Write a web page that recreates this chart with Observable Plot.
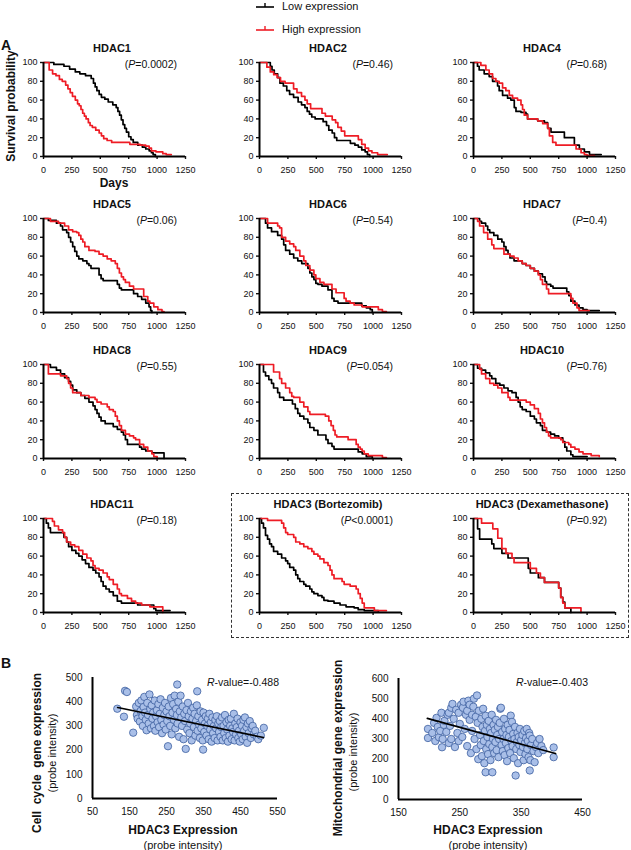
<!DOCTYPE html>
<html><head><meta charset="utf-8">
<script src="https://cdn.jsdelivr.net/npm/d3@7"></script>
<script src="https://cdn.jsdelivr.net/npm/@observablehq/plot@0.6"></script>
<style>
body{margin:0;background:#fff;font-family:"Liberation Sans",Arial,sans-serif;color:#111;}
#root{position:relative;width:631px;height:850px;overflow:hidden;}
.abs{position:absolute;white-space:nowrap;line-height:1;}
.panel{position:absolute;}
.panel svg g[aria-label*="tick"]{stroke-width:1.4px;}
.panel svg .tick line{stroke-width:1.4px;}
</style></head><body><div id="root"></div><script>
// ---------- DATA ----------
const panelNames = ["HDAC1","HDAC2","HDAC4","HDAC5","HDAC6","HDAC7","HDAC8","HDAC9","HDAC10","HDAC11","HDAC3 (Bortezomib)","HDAC3 (Dexamethasone)"];
const pRelation = ["=","=","=","=","=","=","=","=","=","=","<","="];
const pValue = ["0.0002","0.46","0.68","0.06","0.54","0.4","0.55","0.054","0.76","0.18","0.0001","0.92"];
const dayTicks = [0,250,500,750,1000,1250];
const survTicks = [0,20,40,60,80,100];
const seriesNames = ["Low expression","High expression"];

// survival curves: [day, survival %] (step-after)
const hdac1Low = [[0,100],[91,98],[180,96],[230,93],[280,90],[320,88],[370,86],[420,83],[440,78],[455,74],[470,70],[490,66],[510,63],[540,61],[570,58],[610,55],[640,52],[655,48],[670,44],[685,39],[700,34],[715,30],[730,26],[750,21],[770,18],[790,15],[830,12],[870,10],[900,8],[930,6],[950,4],[965,2],[985,0]];
const hdac1High = [[0,100],[50,92],[80,88],[110,86],[140,82],[165,80],[195,76],[215,72],[235,68],[255,64],[280,60],[300,56],[315,54],[330,50],[345,46],[360,43],[375,40],[395,36],[410,33],[430,31],[460,28],[490,25],[510,22],[530,19],[560,17],[600,15],[760,13],[850,12],[900,11],[930,9],[950,6],[990,5],[1050,3],[1080,2],[1125,2]];
const hdac2Low = [[0,100],[95,96],[110,92],[130,88],[160,84],[180,78],[210,75],[240,70],[265,66],[300,63],[340,58],[370,55],[400,52],[420,48],[440,45],[460,42],[490,40],[560,37],[590,33],[610,28],[640,25],[660,20],[680,17],[800,14],[840,12],[870,10],[900,7],[930,5],[950,2],[970,0]];
const hdac2High = [[0,100],[65,95],[95,90],[125,87],[155,84],[185,80],[225,78],[300,72],[330,68],[370,64],[400,60],[420,56],[450,51],[550,46],[580,43],[640,39],[670,36],[690,31],[720,27],[750,22],[870,18],[900,13],[930,9],[960,6],[990,4],[1040,2],[1125,2]];
const hdac4Low = [[0,100],[35,96],[50,92],[94,88],[138,85],[168,80],[212,75],[226,70],[256,65],[300,62],[329,60],[359,52],[374,48],[418,47],[462,45],[476,40],[565,38],[624,36],[653,30],[682,26],[800,20],[888,12],[932,8],[976,5],[1021,2],[1124,2]];
const hdac4High = [[0,100],[65,97],[109,92],[138,88],[168,83],[197,80],[226,78],[256,73],[285,70],[315,65],[344,62],[388,60],[418,55],[432,50],[447,44],[476,40],[565,38],[609,35],[653,30],[668,22],[697,15],[726,12],[903,8],[947,4],[976,2],[1000,1],[1065,1]];
const hdac5Low = [[0,100],[43,98],[114,95],[150,92],[168,88],[204,85],[221,80],[239,75],[257,70],[275,65],[293,60],[311,57],[346,55],[382,52],[400,50],[418,47],[489,40],[507,36],[525,34],[650,30],[668,26],[686,24],[793,20],[829,17],[864,14],[900,10],[929,6],[943,2],[954,0]];
const hdac5High = [[0,100],[61,97],[132,95],[186,92],[221,88],[257,86],[293,85],[311,82],[329,78],[346,75],[364,70],[400,66],[454,65],[489,62],[525,60],[561,57],[596,55],[632,52],[650,47],[668,42],[686,38],[704,35],[721,32],[757,28],[793,25],[882,17],[918,12],[936,10],[971,6],[1007,3],[1043,1],[1061,1]];
const hdac6Low = [[0,100],[53,95],[71,90],[106,86],[160,82],[195,78],[213,72],[230,66],[266,62],[301,58],[337,55],[372,52],[426,47],[443,42],[461,38],[479,35],[496,31],[514,30],[550,28],[603,24],[638,15],[656,12],[691,10],[900,7],[940,5],[975,3],[993,0]];
const hdac6High = [[0,100],[71,95],[160,92],[177,90],[195,80],[230,76],[266,73],[301,70],[319,66],[355,60],[390,55],[408,50],[443,45],[479,40],[496,36],[532,32],[567,30],[638,25],[674,21],[745,15],[762,12],[798,10],[833,8],[904,6],[1046,3],[1082,1],[1117,1]];
const hdac7Low = [[0,100],[54,97],[71,95],[107,92],[125,88],[143,85],[179,82],[214,78],[250,75],[268,70],[286,66],[304,62],[321,58],[357,55],[429,52],[464,50],[500,47],[536,44],[571,41],[607,38],[630,33],[643,30],[680,28],[700,26],[821,22],[839,18],[857,12],[893,8],[929,5],[964,3],[1000,2],[1107,2]];
const hdac7High = [[0,100],[36,97],[54,92],[89,85],[125,78],[161,72],[179,68],[268,62],[321,60],[357,58],[393,55],[429,52],[464,50],[500,47],[536,44],[571,40],[589,35],[607,30],[643,25],[661,20],[857,15],[875,10],[911,5],[929,2],[1018,2]];
const hdac8Low = [[0,100],[61,97],[114,94],[150,90],[186,86],[221,82],[239,78],[257,73],[293,70],[329,67],[364,64],[400,60],[436,56],[454,52],[471,48],[489,44],[507,40],[543,37],[614,34],[650,31],[686,28],[704,25],[721,20],[739,15],[846,12],[864,10],[900,8],[954,6],[1061,0]];
const hdac8High = [[0,100],[43,90],[150,88],[204,85],[221,80],[239,75],[257,70],[329,67],[400,65],[454,63],[471,60],[507,58],[561,55],[579,52],[614,50],[632,45],[650,40],[668,35],[686,30],[721,26],[757,24],[793,22],[811,20],[846,15],[882,12],[918,8],[954,5],[971,2],[1000,0]];
const hdac9Low = [[0,100],[35,92],[53,88],[82,84],[106,80],[124,75],[160,70],[177,65],[213,62],[290,58],[315,53],[337,48],[355,45],[390,42],[426,38],[443,33],[479,30],[514,25],[585,20],[603,16],[638,13],[656,10],[869,7],[904,5],[940,2],[993,0]];
const hdac9High = [[0,100],[124,92],[177,85],[195,80],[230,75],[266,70],[284,66],[301,65],[355,60],[390,55],[426,50],[443,47],[580,45],[610,40],[630,35],[650,30],[665,25],[680,23],[780,20],[851,15],[869,12],[887,10],[904,8],[922,5],[957,3],[1082,1],[1117,1]];
const hdac10Low = [[0,100],[36,96],[71,94],[107,91],[143,88],[161,85],[196,80],[232,78],[268,75],[304,72],[339,70],[375,65],[393,60],[411,55],[429,52],[464,50],[500,45],[536,42],[554,38],[589,35],[607,30],[643,28],[679,26],[714,24],[750,22],[786,18],[804,12],[821,8],[857,4],[875,2],[1000,2]];
const hdac10High = [[0,100],[54,95],[71,90],[107,85],[143,80],[179,78],[214,75],[250,70],[304,65],[321,62],[464,60],[500,57],[536,53],[571,48],[589,42],[607,38],[625,33],[643,28],[661,24],[679,22],[768,20],[786,17],[839,15],[857,12],[893,10],[929,7],[964,5],[1036,3],[1107,2]];
const hdac11Low = [[0,100],[25,95],[43,90],[61,85],[180,80],[204,75],[221,70],[250,66],[285,63],[311,60],[340,56],[370,52],[400,48],[436,45],[460,42],[489,38],[507,33],[525,28],[550,25],[579,22],[614,18],[650,12],[686,10],[829,8],[971,4],[989,2],[1114,2]];
const hdac11High = [[0,100],[79,97],[96,92],[132,88],[168,85],[186,80],[204,75],[239,72],[275,70],[311,66],[346,62],[382,58],[418,55],[436,50],[454,47],[489,45],[525,42],[561,38],[579,35],[614,30],[650,25],[668,20],[686,18],[739,15],[775,12],[811,10],[864,8],[936,6],[1050,0]];
const bortLow = [[0,100],[18,95],[35,90],[53,82],[71,78],[89,73],[106,70],[124,65],[160,62],[195,58],[230,55],[248,52],[266,48],[301,45],[319,40],[337,36],[355,33],[390,30],[408,28],[443,25],[461,22],[479,20],[514,18],[550,16],[567,13],[603,12],[656,10],[709,8],[762,6],[833,5],[869,3],[922,2],[1046,1]];
const bortHigh = [[0,100],[71,98],[195,95],[213,90],[230,85],[248,83],[301,80],[319,75],[355,73],[390,70],[426,68],[461,65],[479,62],[514,60],[532,57],[567,53],[603,50],[621,45],[638,40],[656,36],[727,33],[745,30],[798,28],[851,25],[869,20],[887,15],[904,10],[922,5],[1011,2],[1117,2]];
const dexaLow = [[0,100],[36,89],[54,78],[161,73],[179,68],[250,63],[304,58],[482,47],[500,42],[571,37],[625,32],[750,26],[768,16],[786,11],[804,5],[857,0]];
const dexaHigh = [[0,100],[71,95],[170,89],[214,79],[250,68],[286,63],[339,58],[357,53],[500,47],[554,42],[589,37],[625,32],[750,26],[768,16],[786,10],[804,5],[946,0]];

// scatter B: [HDAC3 expression, gene expression]
const cellCyclePoints = [[117,371],[135,338],[138,445],[143,440],[160,272],
[168,380],[170,345],[172,330],[175,395],[178,318],[180,362],[182,405],[185,340],[186,300],[188,378],[190,420],[192,355],[194,325],[196,282],[198,395],
[200,345],[202,310],[204,430],[206,370],[208,290],[210,385],[212,330],[214,355],[216,300],[218,405],[220,280],[222,340],[224,365],[226,315],[228,390],[230,295],[232,350],[234,410],[236,325],[238,270],
[240,375],[242,305],[244,345],[246,395],[248,285],[250,360],[252,320],[254,216],[256,380],[258,340],[260,300],[262,415],[264,265],[266,355],[268,390],[270,325],[272,425],[274,290],[276,370],[278,345],
[279,471],[280,310],[282,400],[284,255],[286,360],[288,425],[290,335],[292,300],[294,380],[296,245],[298,350],[300,320],[302,205],[304,365],[306,285],[308,395],[310,340],[312,270],[314,310],[316,360],
[318,240],[320,330],[322,375],[324,295],[326,350],[328,260],[330,320],[332,385],[333,443],[334,280],[336,340],[338,305],[340,250],[342,360],[344,290],[346,325],[348,240],[349,202],[350,355],[352,275],
[354,310],[356,340],[358,260],[360,300],[362,330],[364,245],[366,350],[368,285],[370,315],[372,235],[374,335],[376,270],[378,300],[380,250],[382,325],[384,290],[386,340],[388,240],[390,310],[392,275],
[394,320],[396,255],[398,295],[400,335],[402,240],[404,300],[406,270],[408,345],[410,250],[412,315],[414,285],[416,235],[418,325],[420,260],[422,300],[424,330],[426,245],[428,290],[430,275],[432,350],
[434,240],[436,310],[438,265],[440,295],[442,330],[444,250],[446,280],[448,235],[450,315],[452,265],[454,300],[456,245],[458,325],[460,280],[462,335],[464,255],[466,295],[468,230],[470,310],[472,270],
[475,320],[478,250],[480,290],[483,300],[486,265],[490,280],[494,255],[498,245],[505,260],[513,292]];
const mitoPoints = [[198,350],[198,305],[205,330],[208,380],[210,290],[212,405],[214,360],[216,309],[218,340],[220,430],[221,259],[222,300],[224,370],
[225,390],[228,335],[230,420],[232,280],[232,430],[234,365],[236,300],[236,455],[238,474],[240,400],[242,260],[244,445],[246,330],[248,290],[248,430],[250,375],[252,470],[254,310],[255,455],[256,485],[258,350],[260,420],[262,265],[262,440],[264,490],[266,395],[266,470],[268,230],[270,340],[270,420],[272,460],[273,500],[274,300],[276,410],[277,250],[278,516],[279,380],[280,200],[281,440],[283,320],[284,270],[285,400],[286,215],[287,360],[288,450],[289,290],[290,180],[291,340],[292,415],[292,135],[293,250],[294,370],[295,310],[296,225],[297,390],[298,275],[299,350],[300,195],[301,330],[302,420],[303,260],[303,135],[304,300],[305,370],[306,230],[307,345],[308,285],[309,395],[310,245],[311,320],[312,360],[313,210],[314,300],[315,380],[316,450],[317,455],[318,270],[319,335],[320,240],[321,300],[322,400],[323,220],[324,350],[325,280],[326,320],[327,190],[328,370],[329,255],[330,310],[331,345],[332,230],[333,416],[334,290],[335,385],[336,265],[337,325],[338,205],[339,300],[340,360],[341,119],[342,250],[343,285],[344,330],[345,180],[346,310],[347,270],[348,350],[349,235],[350,295],[352,320],[353,260],[354,195],[355,340],[356,280],[357,225],[358,305],[359,350],[360,250],[361,290],[362,210],[363,330],[364,317],[364,144],[365,195],[366,270],[368,300],[370,240],[372,185],[374,260],[376,280],[378,230],[380,300],[383,265],[386,245],[403,258],[403,210]];
const cellCycleFit = [[118,376],[512,252]];
const mitoFit = [[197,402],[406,228]];
const cellCycleR = "-0.488";
const mitoR = "-0.403";
const cellCycleXTicks = [50,150,250,350,450,550];
const cellCycleYTicks = [0,100,200,300,400,500];
const mitoXTicks = [150,250,350,450];
const mitoYTicks = [0,100,200,300,400,500,600];

// ---------- LAYOUT ----------
const FONT = '"Liberation Sans", Arial, sans-serif';
const RED = "#ee1c25";
const root = document.getElementById("root");
const curves = [[hdac1Low,hdac1High],[hdac2Low,hdac2High],[hdac4Low,hdac4High],[hdac5Low,hdac5High],[hdac6Low,hdac6High],[hdac7Low,hdac7High],[hdac8Low,hdac8High],[hdac9Low,hdac9High],[hdac10Low,hdac10High],[hdac11Low,hdac11High],[bortLow,bortHigh],[dexaLow,dexaHigh]];
const colX = [43,259,473];
const rowY = [62,218,364,518];

function label(html, x, y, o = {}) {
  const d = document.createElement("div");
  d.className = "abs";
  d.innerHTML = html;
  d.style.left = x + "px"; d.style.top = y + "px";
  d.style.fontSize = (o.size || 11) + "px";
  if (o.bold) d.style.fontWeight = "bold";
  const ax = o.anchor === "end" ? "-100%" : o.anchor === "start" ? "0" : "-50%";
  d.style.transform = `translate(${ax},-50%)` + (o.rotate ? " rotate(-90deg)" : "");
  root.appendChild(d);
  return d;
}
function place(node, left, top) {
  const w = document.createElement("div");
  w.className = "panel";
  w.style.left = left + "px"; w.style.top = top + "px";
  w.appendChild(node);
  root.appendChild(w);
}

// legend
[["#000",6],[RED,29]].forEach(([c, y], i) => {
  const s = d3.create("svg").attr("width", 24).attr("height", 10).style("position","absolute").style("left","254px").style("top",(y-5)+"px");
  s.append("line").attr("x1",2).attr("x2",20).attr("y1",6).attr("y2",6).attr("stroke",c).attr("stroke-width",1.6);
  s.append("line").attr("x1",11).attr("x2",11).attr("y1",2).attr("y2",6).attr("stroke",c).attr("stroke-width",1.4);
  root.appendChild(s.node());
  label(seriesNames[i], 282, y, {anchor:"start", size:11});
});

label("A", 6, 45, {bold:true, size:14});
label("B", 6, 663, {bold:true, size:14});

// dashed box
const box = document.createElement("div");
box.style.cssText = "position:absolute;left:231px;top:493px;width:396px;height:143px;border:1px dashed #333;";
root.appendChild(box);

curves.forEach(([low, high], i) => {
  const x0 = colX[i % 3], y0 = rowY[Math.floor(i / 3)];
  const p = Plot.plot({
    width: 190, height: 140, marginLeft: 40, marginRight: 8, marginTop: 24, marginBottom: 22,
    style: {fontFamily: FONT, fontSize: "9px", background: "transparent", overflow: "visible", color: "#111"},
    x: {domain: [0, 1250], ticks: dayTicks, tickFormat: d3.format("d"), tickSize: 3, tickPadding: 7, label: null},
    y: {domain: [0, 100], ticks: survTicks, tickSize: 3, tickPadding: 3, label: null},
    marks: [
      Plot.line(low, {x: d => d[0], y: d => d[1], curve: "step-after", stroke: "#000", strokeWidth: 1.7}),
      Plot.line(high, {x: d => d[0], y: d => d[1], curve: "step-after", stroke: RED, strokeWidth: 1.7}),
      Plot.ruleX([0], {stroke: "#000", strokeWidth: 2}),
      Plot.ruleY([0], {stroke: "#000", strokeWidth: 2})
    ]
  });
  place(p, x0 - 40, y0 - 24);
  label(panelNames[i], x0 + 69, y0 - 14, {bold: true, size: 11});
  label(`(<i>P</i>${pRelation[i]}${pValue[i]})`, x0 + 134, y0 + 2, {anchor: "end", size: 10.5});
});
label("Survival probability", 11, 106, {bold: true, size: 12, rotate: true});
label("Days", 114, 183, {bold: true, size: 12});

function scatter(points, fit, xDomain, yDomain, xTicks, yTicks, w, h) {
  return Plot.plot({
    width: w + 50, height: h + 32, marginLeft: 40, marginRight: 10, marginTop: 10, marginBottom: 22,
    style: {fontFamily: FONT, fontSize: "10px", background: "transparent", overflow: "visible", color: "#111"},
    x: {domain: xDomain, ticks: xTicks, tickSize: 0, tickPadding: 9, label: null},
    y: {domain: yDomain, ticks: yTicks, tickSize: 0, tickPadding: 10, label: null},
    marks: [
      Plot.dot(points, {x: d => d[0], y: d => d[1], r: 3.7, fill: "#a9bfe8", stroke: "#3d5f9f", strokeWidth: 0.8}),
      Plot.line(fit, {x: d => d[0], y: d => d[1], stroke: "#000", strokeWidth: 1.7}),
      Plot.ruleX([xDomain[0]], {stroke: "#000", strokeWidth: 2}),
      Plot.ruleY([yDomain[0]], {stroke: "#000", strokeWidth: 2})
    ]
  });
}
place(scatter(cellCyclePoints, cellCycleFit, [50,550], [0,500], cellCycleXTicks, cellCycleYTicks, 185, 121), 52, 667);
place(scatter(mitoPoints, mitoFit, [150,450], [0,600], mitoXTicks, mitoYTicks, 184, 121), 358, 668);

label(`<i>R</i>-value=${cellCycleR}`, 279, 682, {anchor: "end", size: 10.5});
label(`<i>R</i>-value=${mitoR}`, 588, 682, {anchor: "end", size: 10.5});
label("Cell&nbsp; cycle&nbsp; gene expression", 37, 753, {bold: true, size: 12, rotate: true});
label("(probe intensity)", 52, 753, {size: 11, rotate: true});
label("Mitochondrial gene expression", 338, 748, {bold: true, size: 12, rotate: true});
label("(probe intensity)", 353, 752, {size: 11, rotate: true});
label("HDAC3 Expression", 183, 830, {bold: true, size: 12});
label("(probe intensity)", 183, 845, {size: 11});
label("HDAC3 Expression", 488, 830, {bold: true, size: 12});
label("(probe intensity)", 488, 845, {size: 11});
</script></body></html>
